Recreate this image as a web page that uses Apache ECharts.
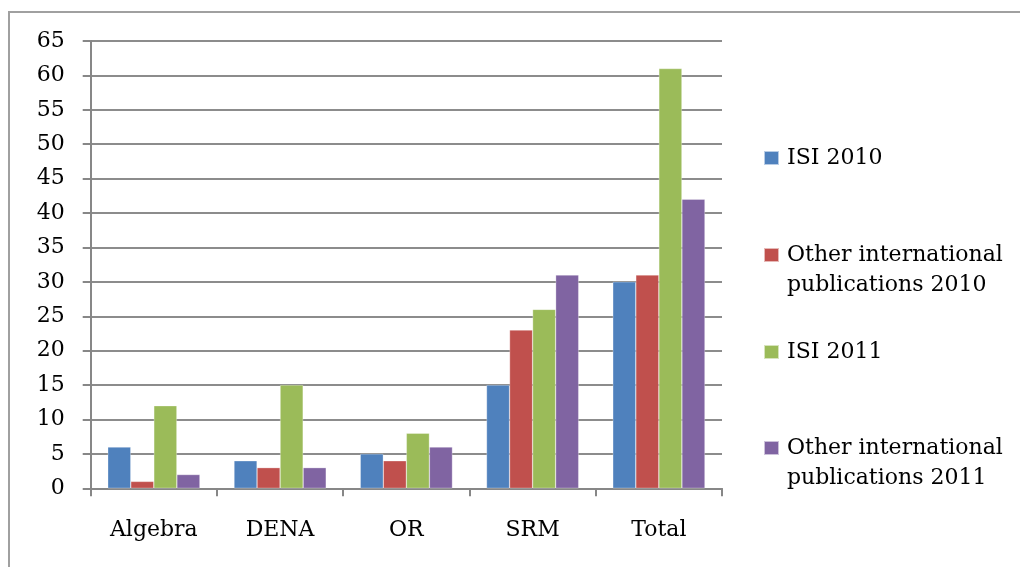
<!DOCTYPE html>
<html>
<head>
<meta charset="utf-8">
<script src="https://cdn.jsdelivr.net/npm/echarts@6/dist/echarts.min.js"></script>
<style>
  html, body { margin: 0; padding: 0; background: #fff; }
  #frame { position: absolute; left: 8px; top: 11px; width: 2000px; height: 2000px;
           border-left: 2px solid #a0a0a0; border-top: 2px solid #a0a0a0; box-sizing: border-box; }
  #chart { position: absolute; left: 0; top: 0; width: 1020px; height: 567px; }
</style>
</head>
<body>
<div id="frame"></div>
<div id="chart"></div>
<script>
const categories = ['Algebra', 'DENA', 'OR', 'SRM', 'Total'];
const seriesNames = ['ISI 2010', 'Other international\npublications 2010', 'ISI 2011', 'Other international\npublications 2011'];
const isi2010 = [6, 4, 5, 15, 30];
const other2010 = [1, 3, 4, 23, 31];
const isi2011 = [12, 15, 8, 26, 61];
const other2011 = [2, 3, 6, 31, 42];
const yTicks = { min: 0, max: 65, interval: 5 };

const colors = ['#4F81BD', '#C0504D', '#9BBB59', '#8064A2'];
const values = [isi2010, other2010, isi2011, other2011];
const FONT = 'DejaVu Serif';
const FS = 22;
const LH = 30;

const chart = echarts.init(document.getElementById('chart'), null, { renderer: 'canvas' });

function makeLegend(name, markerY, multiline) {
  const h = multiline ? 3 * LH : LH;
  return {
    orient: 'vertical',
    left: 763,
    top: markerY - h / 2,
    padding: 0,
    itemWidth: 15,
    itemHeight: 14,
    itemGap: 0,
    icon: 'rect',
    selectedMode: false,
    data: [name],
    formatter: multiline ? (n => '\n' + n) : (n => n),
    textStyle: {
      fontFamily: FONT,
      fontSize: FS,
      color: '#000',
      lineHeight: LH,
      padding: [0, 0, 0, 3]
    }
  };
}

const option = {
  backgroundColor: 'transparent',
  animation: false,
  color: colors,
  grid: { left: 90.7, right: 298, top: 41, bottom: 78.7, containLabel: false },
  legend: [
    makeLegend(seriesNames[0], 158, false),
    makeLegend(seriesNames[1], 255, true),
    makeLegend(seriesNames[2], 352, false),
    makeLegend(seriesNames[3], 448, true)
  ],
  xAxis: {
    type: 'category',
    data: categories,
    axisLine: { show: true, lineStyle: { color: '#878787', width: 2 } },
    axisTick: { show: true, length: 8, alignWithLabel: false, lineStyle: { color: '#878787', width: 2 } },
    axisLabel: { margin: 31, fontFamily: FONT, fontSize: FS, color: '#000' },
    splitLine: { show: false }
  },
  yAxis: {
    type: 'value',
    min: yTicks.min,
    max: yTicks.max,
    interval: yTicks.interval,
    axisLine: { show: true, lineStyle: { color: '#878787', width: 2 } },
    axisTick: { show: true, length: 8, lineStyle: { color: '#878787', width: 2 } },
    axisLabel: { margin: 26, fontFamily: FONT, fontSize: FS, color: '#000' },
    splitLine: { show: true, lineStyle: { color: '#8c8c8c', width: 2 } }
  },
  series: values.map((v, i) => ({
    name: seriesNames[i],
    type: 'bar',
    data: v,
    barGap: '0%',
    barCategoryGap: '27%',
    itemStyle: { color: colors[i], borderColor: 'rgba(255,255,255,0.6)', borderWidth: 0.5 }
  }))
};

chart.setOption(option);
</script>
</body>
</html>
